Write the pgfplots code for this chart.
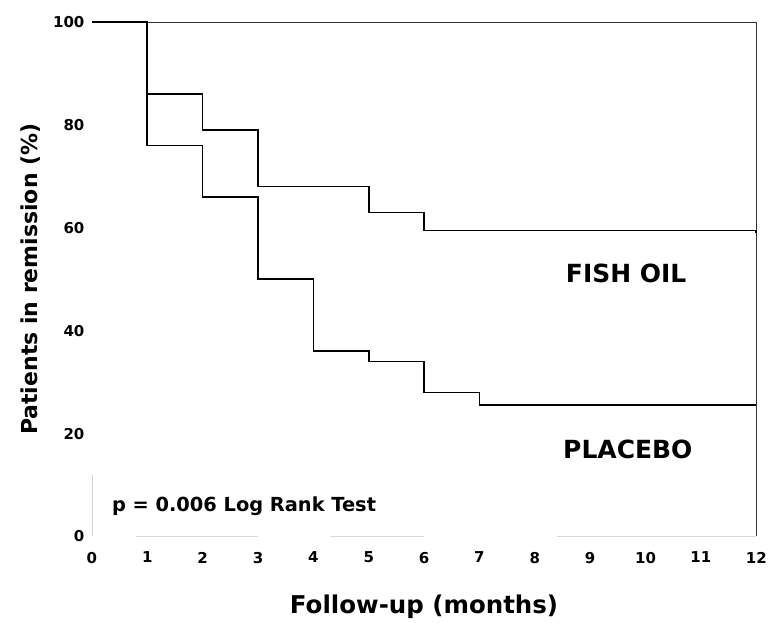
\documentclass[border=0pt]{standalone}
\usepackage{fontspec}
\setmainfont{DejaVu Sans}
\usepackage{pgfplots}
\pgfplotsset{compat=1.18}
\begin{document}
\begin{tikzpicture}
\begin{axis}[
  scale only axis,
  width=665pt, height=515pt,
  xmin=0, xmax=12, ymin=0, ymax=100,
  xtick={0,1,...,12}, ytick={0,20,40,60,80,100},
  axis line style={draw=none},
  tick style={draw=none},
  /pgf/number format/assume math mode=true,
  tick label style={font=\bfseries\fontsize{15}{18}\selectfont},
  yticklabel style={xshift=-4pt},
  xticklabel style={yshift=-12pt},
  xlabel={\bfseries Follow-up (months)},
  ylabel={\bfseries Patients in remission (\%)},
  xlabel style={font=\bfseries\fontsize{24.5}{28}\selectfont, yshift=-25pt},
  ylabel style={font=\bfseries\fontsize{22}{26}\selectfont, yshift=6pt},
  clip=false,
]
\draw[gray!35, line width=0.8pt] (axis cs:0,0) -- (axis cs:0,12);
\draw[gray!30, line width=0.8pt] (axis cs:0.8,0) -- (axis cs:3,0);
\draw[gray!30, line width=0.8pt] (axis cs:4.3,0) -- (axis cs:6,0);
\draw[gray!30, line width=0.8pt] (axis cs:8.4,0) -- (axis cs:12,0);
\draw[black!80, line width=0.7pt] (axis cs:1,100) -- (axis cs:12,100) -- (axis cs:12,0);
\addplot[const plot, black, line width=1.6pt] coordinates {
  (0,100) (1,86) (2,79) (3,68) (5,63) (6,59.5) (12,59)
};
\addplot[const plot, black, line width=1.6pt] coordinates {
  (0,100) (1,76) (2,66) (3,50) (4,36) (5,34) (6,28) (7,25.5) (12,25.5)
};
\node[font=\bfseries\fontsize{25}{29}\selectfont] at (axis cs:9.65,51.2) {FISH OIL};
\node[font=\bfseries\fontsize{25}{29}\selectfont] at (axis cs:9.68,16.9) {PLACEBO};
\node[font=\bfseries\fontsize{19.4}{23}\selectfont, anchor=west, inner sep=0pt] at (axis cs:0.36,5.8) {p = 0.006 Log Rank Test};
\end{axis}
\path (current axis.south west) ++(-92pt,-84pt);
\path (current axis.north east) ++(13pt,22pt);
\end{tikzpicture}
\end{document}
